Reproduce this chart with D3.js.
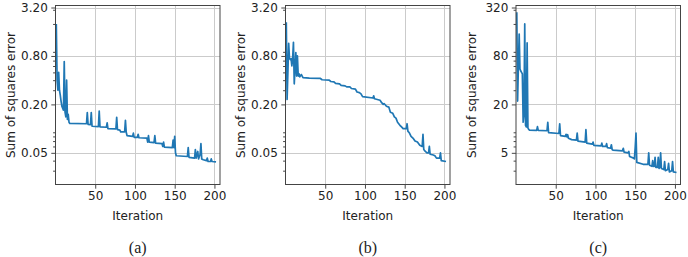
<!DOCTYPE html>
<html>
<head>
<meta charset="utf-8">
<script src="https://cdn.jsdelivr.net/npm/d3@7"></script>
<style>
  body { margin: 0; background: #fff; }
  svg { display: block; font-family: "DejaVu Sans", sans-serif; }
</style>
</head>
<body>
<svg id="drawspace" width="688" height="257"></svg>
<script>
// values (iteration, sum of squares error)
let iterA = [1,2,3,4,5,6,7,8,9,10,11,12,13,14,15,16,17,18,39,40,41,44,45,46,54,55,56,64,65,66,76,77,78,81,82,87,88,89,90,97,98,99,103,104,105,115,116,117,118,124,125,126,134,135,136,137,147,148,149,150,151,152,166,167,168,175,176,177,179,180,182,183,184,186,190,191,192,195,196,197,202];
let sseA = [2.0,0.4,0.3,0.5,0.3,0.26,0.22,0.19,0.18,0.17,0.68,0.16,0.14,0.4,0.13,0.15,0.12,0.116,0.115,0.158,0.113,0.112,0.158,0.107,0.106,0.165,0.105,0.104,0.118,0.1,0.099,0.138,0.097,0.096,0.091,0.091,0.127,0.09,0.082,0.08,0.088,0.078,0.078,0.085,0.077,0.076,0.068,0.082,0.068,0.067,0.082,0.066,0.065,0.06,0.068,0.059,0.058,0.072,0.058,0.08,0.05,0.046,0.045,0.058,0.044,0.043,0.055,0.043,0.052,0.042,0.048,0.065,0.042,0.041,0.04,0.043,0.039,0.039,0.042,0.039,0.0385];

let iterB = [1,2,3,4,5,6,7,8,9,10,11,12,13,14,15,16,17,18,20,22,30,44,46,55,57,61,63,68,70,75,77,81,83,88,90,93,95,97,110,111,112,119,121,123,124,126,127,130,132,135,137,139,141,144,146,148,152,153,154,156,158,161,163,166,169,172,173,174,176,178,180,181,182,186,188,190,194,195,196,202];
let sseB = [2.1,0.23,0.5,1.15,0.75,0.72,0.74,0.6,0.75,1.18,0.36,0.55,0.88,0.45,0.8,0.45,0.48,0.44,0.47,0.43,0.425,0.42,0.405,0.4,0.385,0.38,0.365,0.36,0.345,0.34,0.33,0.33,0.315,0.31,0.285,0.28,0.27,0.25,0.24,0.255,0.235,0.225,0.21,0.2,0.205,0.195,0.19,0.185,0.16,0.155,0.14,0.135,0.12,0.11,0.105,0.1,0.1,0.115,0.093,0.088,0.08,0.075,0.07,0.068,0.062,0.06,0.085,0.055,0.052,0.05,0.05,0.06,0.048,0.047,0.046,0.043,0.043,0.05,0.04,0.039];

let iterC = [1,2,3,4,5,6,7,8,9,10,11,12,13,14,15,16,17,26,27,28,39,40,41,54,55,56,62,63,64,65,66,70,76,77,78,87,88,89,96,97,98,107,108,109,113,114,115,119,120,121,122,134,135,136,141,142,143,148,149,150,151,152,160,166,167,168,171,172,173,174,175,176,178,179,180,181,182,183,186,187,188,191,192,193,196,197,198,202];
let sseC = [280,22,60,150,55,52,50,48,12,15,200,11,10.5,116,10.2,9.8,9.6,9.5,10.6,9.5,9.4,12,8.9,8.7,11.5,8.2,8.0,8.5,7.9,8.4,7.6,7.3,7.2,8.8,7.0,6.8,9.7,6.6,6.4,6.8,6.2,6.1,6.6,6.0,6.0,6.5,5.8,5.7,6.3,5.5,5.4,5.3,5.7,5.1,5.0,5.2,4.5,4.3,4.2,5.8,8.8,3.8,3.6,3.6,5.0,3.5,3.4,4.0,3.4,3.4,4.4,3.3,3.3,4.4,3.2,3.3,5.0,3.2,3.1,3.9,3.0,3.1,3.7,2.9,3.0,3.9,2.9,2.85];

let xTicks = [50, 100, 150, 200];
let yTicksAB = [0.05, 0.2, 0.8, 3.2];
let yLabelsAB = ["0.05", "0.20", "0.80", "3.20"];
let yTicksC = [5, 20, 80, 320];
let yLabelsC = ["5", "20", "80", "320"];
let panelLabels = ["(a)", "(b)", "(c)"];

let drawSpace = d3.select("#drawspace");

var plotW = 164.5, plotTop = 5.5, plotBottom = 184.5;
var xDomain = [0, 207];

let panels = [
  { left: 55.5, iter: iterA, sse: sseA, yDomain: [0.0202, 3.39], ticks: yTicksAB, labels: yLabelsAB, name: panelLabels[0] },
  { left: 285.5, iter: iterB, sse: sseB, yDomain: [0.0202, 3.39], ticks: yTicksAB, labels: yLabelsAB, name: panelLabels[1] },
  { left: 516, iter: iterC, sse: sseC, yDomain: [2.02, 339], ticks: yTicksC, labels: yLabelsC, name: panelLabels[2] },
];

panels.forEach(drawPanel);

function drawPanel(p) {
  let xScale = d3.scaleLinear().domain(xDomain).range([p.left, p.left + plotW]);
  let yScale = d3.scaleLog().domain(p.yDomain).range([plotBottom, plotTop]);
  let g = drawSpace.append("g");

  // minor ticks at 2..9 x 10^k, like matplotlib's log locator
  let minor = [];
  for (let e = -3; e <= 3; e++) {
    for (let k = 2; k <= 9; k++) {
      let v = k * Math.pow(10, e);
      if (v >= p.yDomain[0] && v <= p.yDomain[1]) minor.push(v);
    }
  }

  // grid
  g.selectAll(".vgrid")
    .data(xTicks)
    .enter()
    .append("line")
    .attr("x1", (d) => Math.round(xScale(d)) + 0.5)
    .attr("x2", (d) => Math.round(xScale(d)) + 0.5)
    .attr("y1", plotTop)
    .attr("y2", plotBottom)
    .attr("stroke", "#cbcbcb")
    .attr("stroke-width", 1);
  g.selectAll(".hgrid")
    .data(p.ticks)
    .enter()
    .append("line")
    .attr("x1", p.left)
    .attr("x2", p.left + plotW)
    .attr("y1", (d) => Math.round(yScale(d)) + 0.5)
    .attr("y2", (d) => Math.round(yScale(d)) + 0.5)
    .attr("stroke", "#cbcbcb")
    .attr("stroke-width", 1);

  // the line
  let pts = p.iter.map((d, i) => ({ it: d, v: p.sse[i] }));
  g.append("path")
    .datum(pts)
    .attr("fill", "none")
    .attr("stroke", "#1f77b4")
    .attr("stroke-width", 1.7)
    .attr("stroke-linejoin", "round")
    .attr("d", d3.line().x((d) => xScale(d.it)).y((d) => yScale(d.v)));

  // axes
  let xAxis = g.append("g")
    .attr("transform", "translate(0," + plotBottom + ")")
    .call(d3.axisBottom(xScale).tickValues(xTicks).tickSize(4.2).tickPadding(3).tickFormat(d3.format("d")));
  let yMinor = g.append("g")
    .attr("transform", "translate(" + p.left + ",0)")
    .call(d3.axisLeft(yScale).tickValues(minor.filter((v) => p.ticks.indexOf(+v.toPrecision(6)) < 0)).tickSize(2.4).tickFormat(""));
  let yAxis = g.append("g")
    .attr("transform", "translate(" + p.left + ",0)")
    .call(d3.axisLeft(yScale).tickValues(p.ticks).tickSize(4.2).tickPadding(3.5).tickFormat((d, i) => p.labels[i]));

  [xAxis, yAxis, yMinor].forEach((a) => {
    a.select(".domain").remove();
    a.selectAll("line").attr("stroke", "#333").attr("stroke-width", 0.9);
    a.selectAll("text")
      .attr("fill", "#222")
      .style("font-family", "'DejaVu Sans', sans-serif")
      .style("font-size", "12px");
  });

  // frame
  g.append("rect")
    .attr("x", p.left)
    .attr("y", plotTop)
    .attr("width", plotW)
    .attr("height", plotBottom - plotTop)
    .attr("fill", "none")
    .attr("stroke", "#444")
    .attr("stroke-width", 1);

  // titles
  g.append("text")
    .attr("x", p.left + plotW / 2)
    .attr("y", 215.5)
    .attr("text-anchor", "middle")
    .attr("dominant-baseline", "central")
    .attr("fill", "#222")
    .style("font-size", "12px")
    .text("Iteration");
  g.append("text")
    .attr("transform", "translate(" + (p.left - 44.5) + "," + (plotTop + plotBottom) / 2 + ") rotate(-90)")
    .attr("text-anchor", "middle")
    .attr("dominant-baseline", "central")
    .attr("fill", "#222")
    .style("font-size", "12px")
    .text("Sum of squares error");
  g.append("text")
    .attr("x", p.left + plotW / 2)
    .attr("y", 247)
    .attr("text-anchor", "middle")
    .attr("dominant-baseline", "central")
    .attr("fill", "#222")
    .style("font-family", "'Liberation Serif', serif")
    .style("font-size", "16px")
    .text(p.name);
}
</script>
</body>
</html>
